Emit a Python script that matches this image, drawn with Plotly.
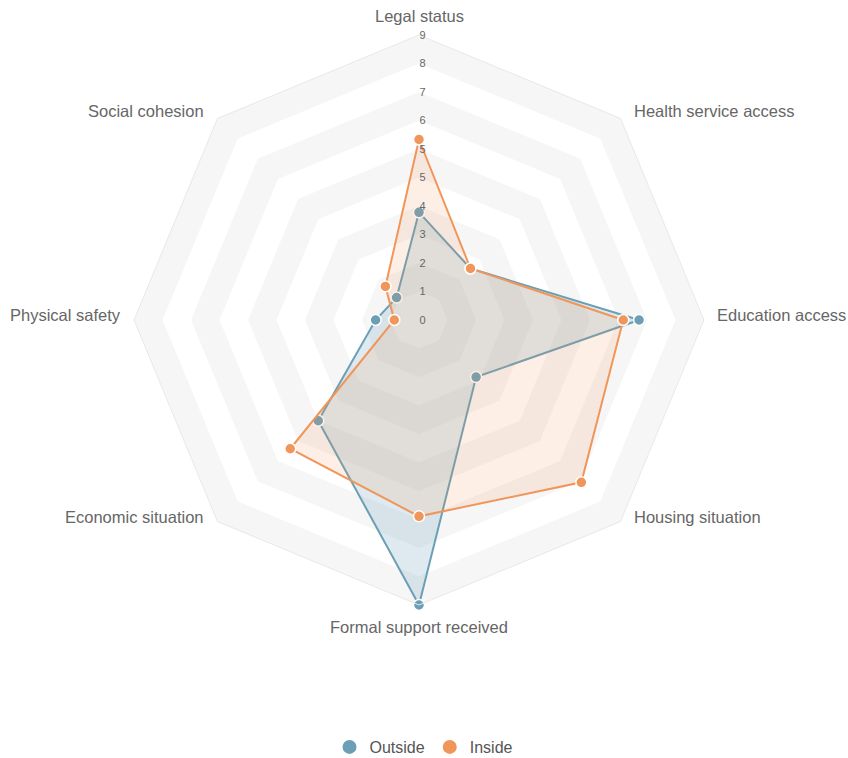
import math
import plotly.graph_objects as go

categories = ["Legal status", "Health service access", "Education access", "Housing situation",
              "Formal support received", "Economic situation", "Physical safety", "Social cohesion"]
outside_vals = [3.4, 2.3, 6.95, 2.55, 9.0, 4.5, 1.37, 1.0]
inside_vals = [5.7, 2.3, 6.45, 7.25, 6.2, 5.75, 0.78, 1.5]
tick_vals = [0, 0.9, 1.8, 2.7, 3.6, 4.5, 5.4, 6.3, 7.2, 8.1, 9.0]
tick_text = ["0", "1", "2", "3", "4", "5", "5", "6", "7", "8", "9"]

BLUE = "#6a9fb5"
ORANGE = "#f0965a"

fig = go.Figure()

# alternating bands (split area)
ring_levels = tick_vals[1:][::-1]
for i, lv in enumerate(ring_levels):
    col = "#f6f6f6" if i % 2 == 0 else "#ffffff"
    fig.add_trace(go.Scatterpolar(
        r=[lv] * (len(categories) + 1), theta=categories + [categories[0]],
        mode="lines", line=dict(width=0), fill="toself", fillcolor=col,
        hoverinfo="skip", showlegend=False))

fig.add_trace(go.Scatterpolar(
    r=outside_vals + [outside_vals[0]], theta=categories + [categories[0]],
    name="Outside", mode="lines+markers", fill="toself",
    fillcolor="rgba(106,159,181,0.22)",
    line=dict(color=BLUE, width=2), showlegend=False,
    marker=dict(size=11, color=BLUE, line=dict(color="white", width=1.5))))
fig.add_trace(go.Scatterpolar(
    r=inside_vals + [inside_vals[0]], theta=categories + [categories[0]],
    name="Inside", mode="lines+markers", fill="toself",
    fillcolor="rgba(240,150,90,0.15)",
    line=dict(color=ORANGE, width=2), showlegend=False,
    marker=dict(size=11, color=ORANGE, line=dict(color="white", width=1.5))))

# legend entries (marker only)
for nm, col in [("Outside", BLUE), ("Inside", ORANGE)]:
    fig.add_trace(go.Scatterpolar(
        r=[None], theta=[categories[0]], name=nm, mode="markers",
        marker=dict(size=14, color=col), hoverinfo="skip"))

W, H = 848, 758
cx, cy, R = 419, 320, 285   # polar centre/radius in px

annotations = []
n = len(categories)
for i, name in enumerate(categories):
    ang = math.radians(90 - 360.0 * i / n)
    c, s = math.cos(ang), math.sin(ang)
    px = cx + R * c
    py = cy - R * s
    if c > 0.1:
        xa, dx = "left", 12
    elif c < -0.1:
        xa, dx = "right", -12
    else:
        xa, dx = "center", 0
    if s > 0.9:
        dy = -19
    elif s < -0.9:
        dy = 22
    elif abs(s) < 0.1:
        dy = -5
    elif s > 0:
        dy = -7.5
    else:
        dy = -4.5
    annotations.append(dict(
        text=name, xref="paper", yref="paper", showarrow=False,
        x=(px + dx) / W, y=1 - (py + dy) / H, xanchor=xa, yanchor="middle",
        borderpad=0, font=dict(size=16.5, color="#666666")))

fig.update_layout(
    width=W, height=H,
    margin=dict(l=0, r=0, t=0, b=0, autoexpand=False),
    paper_bgcolor="white",
    font=dict(family="Liberation Sans, Arial, sans-serif", color="#666666"),
    annotations=annotations,
    polar=dict(
        domain=dict(x=[(cx - R) / W, (cx + R) / W], y=[1 - (cy + R) / H, 1 - (cy - R) / H]),
        bgcolor="white",
        gridshape="linear",
        radialaxis=dict(range=[0, 9], tickvals=tick_vals, ticktext=tick_text, angle=90,
                        tickangle=90, showline=False, ticks="", gridcolor="#e8e8e8",
                        tickfont=dict(size=11, color="#666666"), layer="above traces"),
        angularaxis=dict(rotation=90, direction="clockwise", gridcolor="#e8e8e8",
                         linecolor="#e8e8e8", ticks="", showticklabels=False,
                         layer="above traces"),
    ),
    legend=dict(orientation="h", x=0.5, xanchor="center", yref="container",
                y=1 - 747 / H, yanchor="middle",
                font=dict(size=16, color="#555555"), itemsizing="trace",
                itemwidth=30, tracegroupgap=0),
)

fig.write_html("out.html", config={"displayModeBar": False},
               post_script="document.body.style.margin='0';document.body.style.overflow='hidden';")
